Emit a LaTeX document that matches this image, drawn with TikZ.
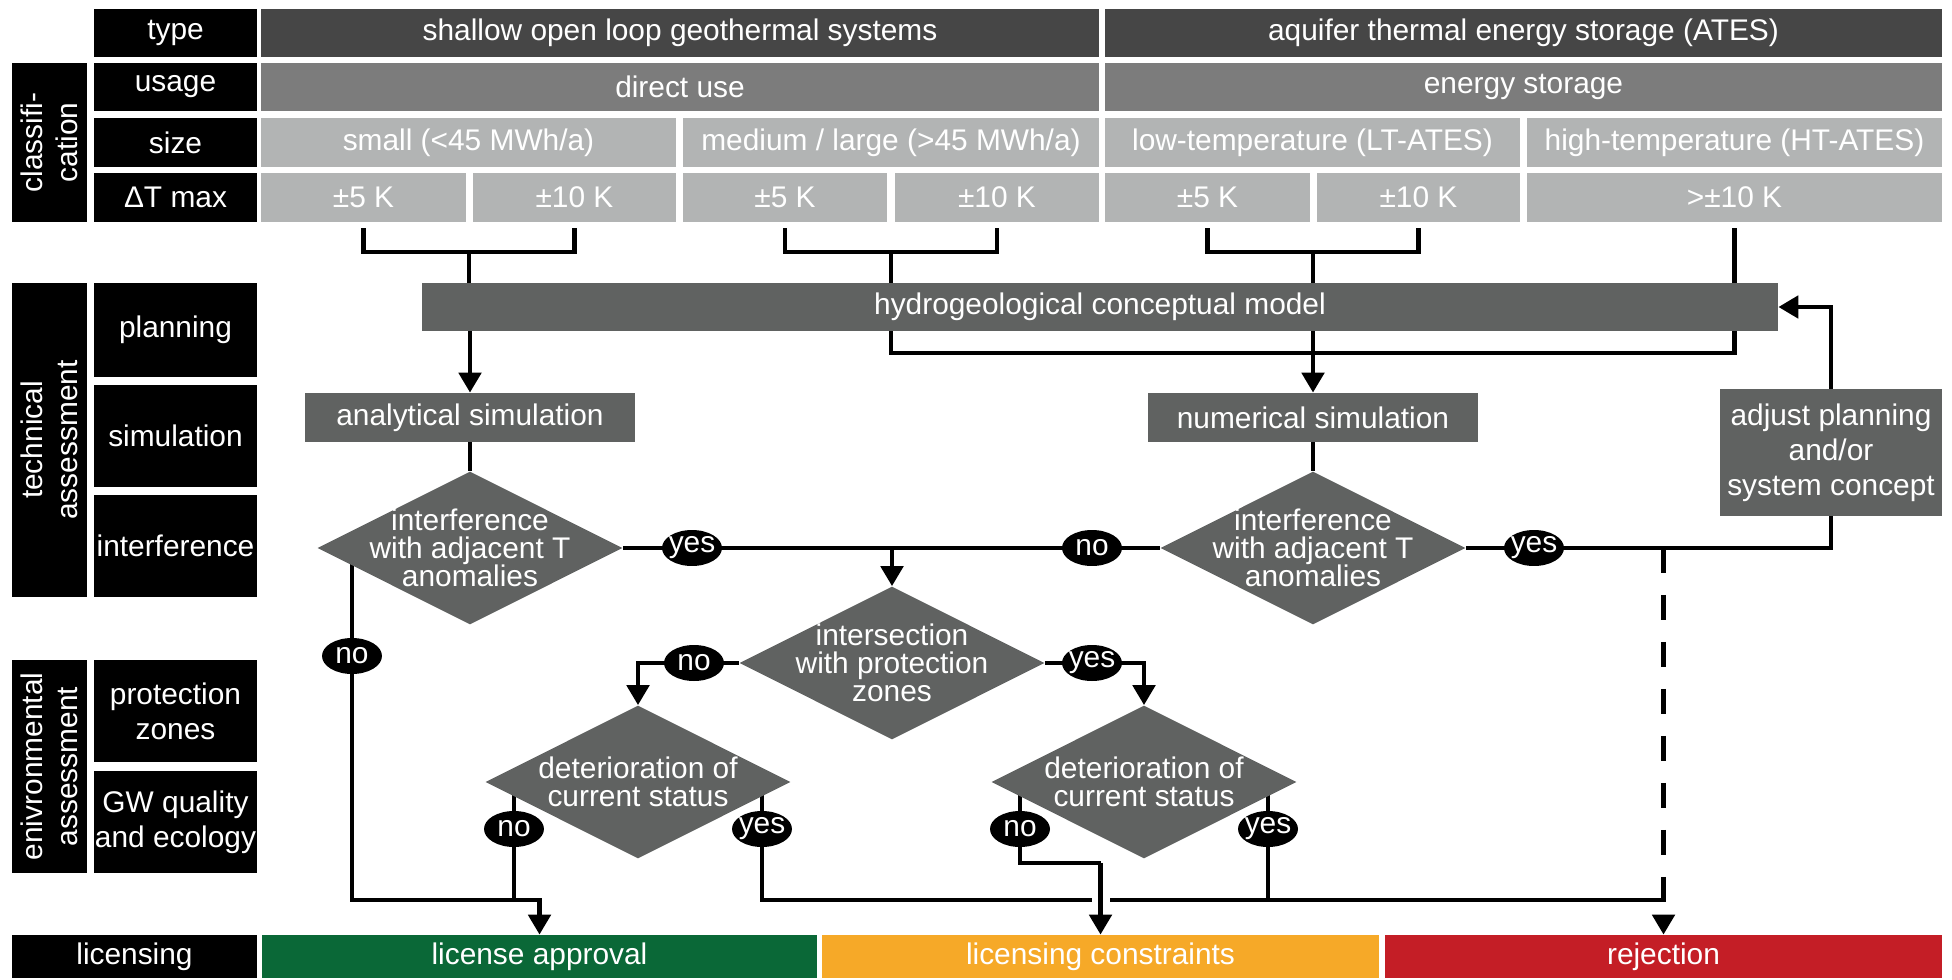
\documentclass[tikz,border=0pt]{standalone}
\usepackage{fontspec}
\setmainfont{Liberation Sans}
\usetikzlibrary{shapes.geometric,arrows.meta,backgrounds}
\definecolor{gristype}{RGB}{70,70,70}
\definecolor{grisusage}{RGB}{124,124,124}
\definecolor{grisclair}{RGB}{178,180,180}
\definecolor{grisflux}{RGB}{96,98,97}
\definecolor{vertlic}{RGB}{10,104,55}
\definecolor{orangelic}{RGB}{246,169,40}
\definecolor{rougelic}{RGB}{196,30,38}
\begin{document}
\begin{tikzpicture}[x=0.02cm,y=-0.02cm,
  font=\fontsize{17}{20}\selectfont,
  boite/.style n args={4}{at={({(#1+#3)/2},{(#2+#4)/2})},
    minimum width={(#3-#1)*0.02cm},minimum height={(#4-#2)*0.02cm},
    inner sep=0pt,text=white,align=center},
  etiq/.style={fill=black,text=white,inner sep=0pt,align=center},
  losange/.style={diamond,fill=grisflux,text=white,align=center,
    minimum width=6.1cm,minimum height=3.06cm,inner sep=-1cm,
    font=\fontsize{17}{16}\selectfont},
  bulle/.style={ellipse,fill=black,text=white,inner sep=-1.2pt,
    minimum width=1.2cm,minimum height=0.72cm},
  ligne/.style={line width=2.8pt},
  fleche/.style={ligne,-{Triangle[length=0.4cm,width=0.44cm]}},
  tirets/.style={dash pattern=on 0.5cm off 0.44cm},
  coupure/.style={preaction={draw=white,line width=0.36cm,-,shorten <=0.2cm}}]
  \useasboundingbox (0,0) rectangle (1952,980);
  % etiquettes a gauche
  \node[etiq,rotate=90,minimum width=3.18cm,minimum height=1.5cm] (lclass) at (49.5,142.5) {classifi-\\cation};
  \node[etiq,rotate=90,minimum width=6.28cm,minimum height=1.5cm] (ltech) at (49.5,440) {technical\\assessment};
  \node[etiq,rotate=90,minimum width=4.26cm,minimum height=1.5cm] (lenv) at (49.5,766.5) {enivronmental\\assessment};
  \node[etiq,boite={94}{9}{257}{57}] (ltype) {type};
  \node[etiq,boite={94}{63}{257}{111}] (lusage) {usage};
  \node[etiq,boite={94}{118}{257}{167}] (lsize) {size};
  \node[etiq,boite={94}{173}{257}{222}] (ldt) {ΔT max};
  \node[etiq,boite={94}{283}{257}{377}] (lplan) {planning};
  \node[etiq,boite={94}{385}{257}{487}] (lsim) {simulation};
  \node[etiq,boite={94}{495}{257}{597}] (linter) {interference};
  \node[etiq,boite={94}{660}{257}{762}] (lprot) {protection\\zones};
  \node[etiq,boite={94}{771}{257}{873}] (lgw) {GW quality\\and ecology};
  \node[etiq,boite={12}{935}{257}{978}] (llic) {licensing};
  % classification
  \node[boite={261}{9}{1099}{57},fill=gristype] (tshallow) {shallow open loop geothermal systems};
  \node[boite={1105}{9}{1942}{57},fill=gristype] (tates) {aquifer thermal energy storage (ATES)};
  \node[boite={261}{63}{1099}{111},fill=grisusage] (udirect) {direct use};
  \node[boite={1105}{63}{1942}{111},fill=grisusage] (ustorage) {energy storage};
  \node[boite={261}{118}{676}{167},fill=grisclair] (ssmall) {small (<45 MWh/a)};
  \node[boite={683}{118}{1099}{167},fill=grisclair] (smedium) {medium / large (>45 MWh/a)};
  \node[boite={1105}{118}{1520}{167},fill=grisclair] (slow) {low-temperature (LT-ATES)};
  \node[boite={1527}{118}{1942}{167},fill=grisclair] (shigh) {high-temperature (HT-ATES)};
  \node[boite={261}{173}{466}{222},fill=grisclair] (dt1) {±5 K};
  \node[boite={473}{173}{676}{222},fill=grisclair] (dt2) {±10 K};
  \node[boite={683}{173}{887}{222},fill=grisclair] (dt3) {±5 K};
  \node[boite={895}{173}{1099}{222},fill=grisclair] (dt4) {±10 K};
  \node[boite={1105}{173}{1310}{222},fill=grisclair] (dt5) {±5 K};
  \node[boite={1317}{173}{1520}{222},fill=grisclair] (dt6) {±10 K};
  \node[boite={1527}{173}{1942}{222},fill=grisclair] (dt7) {>±10 K};
  % evaluation technique
  \node[boite={422}{283}{1778}{331},fill=grisflux] (hydro) {hydrogeological conceptual model};
  \node[boite={305}{393}{635}{442},fill=grisflux] (ana) {analytical simulation};
  \node[boite={1148}{393}{1478}{442},fill=grisflux] (num) {numerical simulation};
  \node[boite={1720}{389}{1942}{516},fill=grisflux] (adj) {adjust planning\\and/or\\system concept};
  \node[losange] (dia1) at (470,548) {interference\\with adjacent T\\anomalies};
  \node[losange] (dia2) at (1313,548) {interference\\with adjacent T\\anomalies};
  % evaluation environnementale
  \node[losange] (dia3) at (892,663) {intersection\\with protection\\zones};
  \node[losange] (dia4) at (638,782) {deterioration of\\current status};
  \node[losange] (dia5) at (1144,782) {deterioration of\\current status};
  % oui / non
  \node[bulle] (yes1) at (692,548) {yes};
  \node[bulle] (no2) at (1092,548) {no};
  \node[bulle] (yes2) at (1534,548) {yes};
  \node[bulle] (no1) at (352,656) {no};
  \node[bulle] (no3) at (694,663) {no};
  \node[bulle] (yes3) at (1092,663) {yes};
  \node[bulle] (no4) at (514,829) {no};
  \node[bulle] (yes4) at (762,829) {yes};
  \node[bulle] (no5) at (1020,829) {no};
  \node[bulle] (yes5) at (1268,829) {yes};
  % autorisation
  \node[boite={262}{935}{817}{978},fill=vertlic] (appr) {license approval};
  \node[boite={822}{935}{1379}{978},fill=orangelic] (cons) {licensing constraints};
  \node[boite={1385}{935}{1942}{978},fill=rougelic] (rej) {rejection};
  % points de jonction
  \coordinate (b1) at (469,252);
  \coordinate (b2) at (891,252);
  \coordinate (b3) at (1313,252);
  \coordinate (b4) at (1313,353);
  \coordinate (mi) at (0,863);
  \coordinate (bas) at (0,900);
  \begin{scope}[on background layer]
    % accolades sous Delta T
    \draw[ligne] ([yshift=-0.12cm]dt1.south) |- (b1) -| ([yshift=-0.12cm]dt2.south);
    \draw[ligne] ([yshift=-0.12cm]dt3.south) |- (b2) -| ([yshift=-0.12cm]dt4.south);
    \draw[ligne] ([yshift=-0.12cm]dt5.south) |- (b3) -| ([yshift=-0.12cm]dt6.south);
    \draw[ligne] (b1) -- (b1 |- hydro.north);
    \draw[ligne] (b2) -- (b2 |- hydro.north);
    \draw[ligne] (b3) -- (b3 |- hydro.north);
    \draw[ligne] ([yshift=-0.12cm]dt7.south) -- (dt7.south |- hydro.north);
    % sous le modele
    \draw[fleche] (hydro.south -| ana.north) -- (ana.north);
    \draw[ligne] (hydro.south -| b2) |- (b4) -| (hydro.south -| dt7.south);
    \draw[fleche] (hydro.south -| num.north) -- (num.north);
    \draw[ligne] (ana.south) -- (dia1.north);
    \draw[ligne] (num.south) -- (dia2.north);
    % interferences
    \draw[ligne] (dia1.east) -- (dia2.west);
    \draw[fleche] (yes1 -| dia3.north) -- (dia3.north);
    \draw[ligne] (dia2.east) -| (adj.south);
    \draw[fleche] (adj.north) |- (hydro.east);
    \draw[fleche,tirets] (yes2 -| rej.north) -- (rej.north);
    \draw[fleche] (no1 |- dia1) |- (bas -| appr.north) -- (appr.north);
    % zones de protection
    \draw[fleche] (dia3.west) -| (dia4.north);
    \draw[fleche] (dia3.east) -| (dia5.north);
    \draw[ligne] (no4 |- dia4) -- (no4 |- bas);
    \draw[ligne] (yes4 |- dia4) |- (bas -| rej.north);
    \draw[ligne] (yes5 |- dia5) -- (yes5 |- bas);
    \draw[ligne] (no5 |- dia5) |- (mi -| cons.north);
    \draw[fleche,coupure] (mi -| cons.north) -- (cons.north);
  \end{scope}
\end{tikzpicture}
\end{document}
